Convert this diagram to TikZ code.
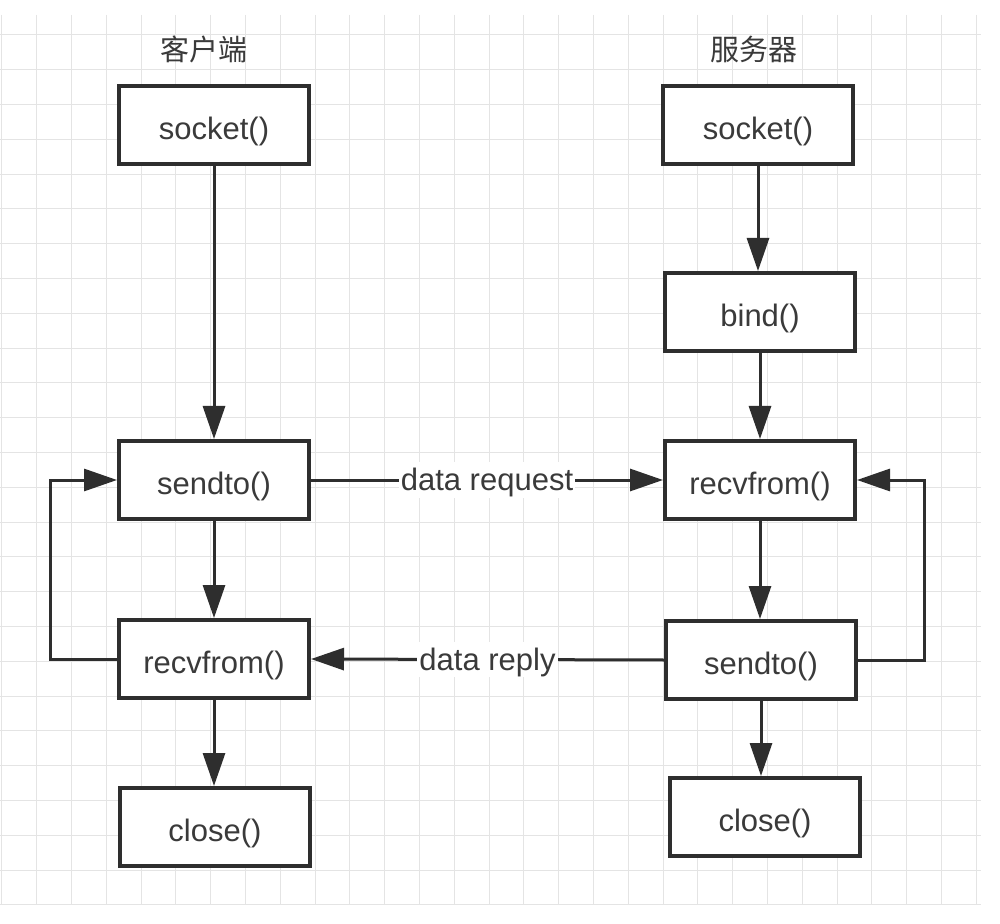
\documentclass[tikz,border=0pt]{standalone}
\usepackage{fontspec}
\setmainfont{Liberation Sans}
\newfontfamily\cjk{Noto Sans CJK SC}
\usetikzlibrary{arrows.meta}
\definecolor{gridc}{HTML}{E4E4E4}
\definecolor{linec}{HTML}{2E2E2E}
\definecolor{textc}{HTML}{3A3A3A}
\begin{document}
\begin{tikzpicture}[x=0.5pt,y=-0.5pt,
  box/.style={draw=linec, line width=2pt, fill=white, minimum width=95pt, minimum height=39pt, inner sep=0pt, text height=16pt, text depth=1.8pt, font=\fontsize{15.5}{18}\selectfont, text=textc},
  title/.style={font=\cjk\fontsize{14.5}{17}\selectfont, text=textc},
  conn/.style={draw=linec, line width=1.5pt, -{Triangle[length=16.5pt,width=11pt]}},
  lbl/.style={fill=white, inner xsep=1pt, inner ysep=0pt, text height=14pt, text depth=3.5pt, font=\fontsize{15.5}{18}\selectfont, text=textc}]
\useasboundingbox (0,0) rectangle (1000,924);
\fill[white] (0,0) rectangle (1000,924);
% grid
\foreach \i in {0,...,28} {
  \pgfmathsetmacro{\gx}{int(1.9+34.8*\i)+0.5}
  \draw[gridc, line width=0.5pt] (\gx,15) -- (\gx,905);
}
\foreach \j in {1,...,26} {
  \pgfmathsetmacro{\gy}{int(34.8*\j)+0.5}
  \draw[gridc, line width=0.5pt] (0,\gy) -- (981,\gy);
}
% titles
\node[title] (tc) at (204,49) {客户端};
\node[title] (ts) at (754,49) {服务器};
% client
\node[box] (c1) at (214,125) {socket()};
\node[box] (c2) at (214,480) {sendto()};
\node[box] (c3) at (214,659) {recvfrom()};
\node[box] (c4) at (215,827) {close()};
% server
\node[box] (s1) at (758,125) {socket()};
\node[box] (s2) at (760,312) {bind()};
\node[box] (s3) at (760,480) {recvfrom()};
\node[box] (s4) at (761,660) {sendto()};
\node[box] (s5) at (765,817) {close()};
% client arrows
\draw[conn] (c1.south) -- (c1.south |- c2.north);
\draw[conn] (c2.south) -- (c2.south |- c3.north);
\draw[conn] (c3.south) -- (c3.south |- c4.north);
\coordinate (cl) at (50,659);
\draw[conn] (c3.west) -- (cl) |- (c2.west);
% server arrows
\draw[conn] (s1.south) -- (s1.south |- s2.north);
\draw[conn] (s2.south) -- (s2.south |- s3.north);
\draw[conn] (s3.south) -- (s3.south |- s4.north);
\draw[conn] (s4.south) -- (s4.south |- s5.north);
\coordinate (sr) at (924,660);
\draw[conn] (s4.east) -- (sr) |- (s3.east);
% data exchange
\draw[conn] (c2.east) -- node[lbl] (lreq) {data request} (s3.west);
\draw[conn] (s4.west) -- node[lbl] (lrep) {data reply} (c3.east);
\end{tikzpicture}
\end{document}
